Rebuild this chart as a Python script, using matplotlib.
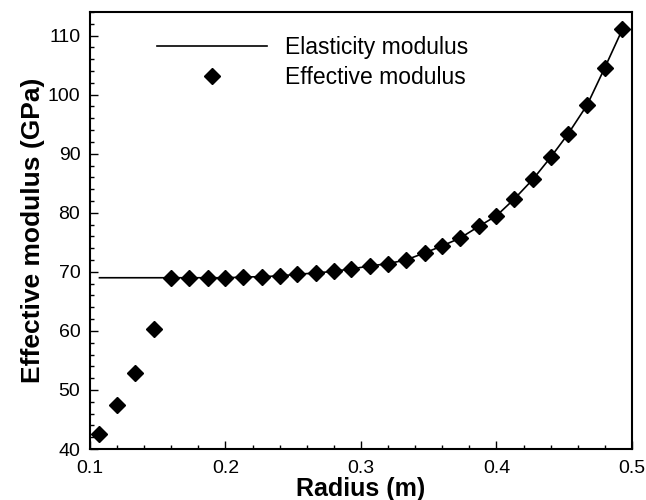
import numpy as np
import matplotlib
matplotlib.use("Agg")
import matplotlib.pyplot as plt
from matplotlib.ticker import MultipleLocator

# ── Data ─────────────────────────────────────────────────────────
radius = [0.107, 0.120, 0.133, 0.147, 0.160, 0.173, 0.187, 0.200, 0.213, 0.227,
          0.240, 0.253, 0.267, 0.280, 0.293, 0.307, 0.320, 0.333, 0.347, 0.360,
          0.373, 0.387, 0.400, 0.413, 0.427, 0.440, 0.453, 0.467, 0.480, 0.493]
effective = [42.5, 47.4, 52.9, 60.4, 69.0, 69.0, 69.0, 69.0, 69.1, 69.2,
             69.3, 69.6, 69.8, 70.1, 70.5, 71.0, 71.4, 72.0, 73.2, 74.4,
             75.7, 77.7, 79.5, 82.3, 85.7, 89.4, 93.4, 98.3, 104.6, 111.1]
elasticity = [69.0, 69.0, 69.0, 69.0, 69.0, 69.0, 69.0, 69.0, 69.1, 69.2,
              69.3, 69.6, 69.8, 70.1, 70.5, 71.0, 71.4, 72.0, 73.2, 74.4,
              75.7, 77.7, 79.5, 82.3, 85.7, 89.4, 93.4, 98.3, 104.6, 111.1]

plt.rcParams['font.family'] = ['Liberation Sans', 'DejaVu Sans']

fig = plt.figure(figsize=(6.46, 5.0), dpi=100)
ax = fig.add_axes([0.1393, 0.102, 0.839, 0.874])

ax.plot(radius, elasticity, color='black', linewidth=1.2, label='Elasticity modulus')
ax.plot(radius, effective, 'D', color='black', markersize=8.5, linestyle='none',
        label='Effective modulus')

ax.set_xlim(0.1, 0.5)
ax.set_ylim(40, 114)
ax.xaxis.set_major_locator(MultipleLocator(0.1))
ax.xaxis.set_minor_locator(MultipleLocator(0.02))
ax.yaxis.set_major_locator(MultipleLocator(10))
ax.yaxis.set_minor_locator(MultipleLocator(2))
ax.tick_params(which='both', direction='in', top=False, right=False,
               labelsize=14, width=1.0)
ax.tick_params(which='major', length=6, pad=7)
ax.tick_params(which='minor', length=3)
ax.xaxis.set_tick_params(pad=8)
for s in ax.spines.values():
    s.set_linewidth(1.5)

ax.set_xlabel('Radius (m)', fontsize=18, fontweight='bold', labelpad=0)
ax.set_ylabel('Effective modulus (GPa)', fontsize=19, fontweight='bold', labelpad=2)

ax.legend(loc='upper left', bbox_to_anchor=(0.123, 0.944), frameon=False,
          fontsize=16.5, handlelength=4.8, handletextpad=0.8, labelspacing=0.3,
          borderpad=0, borderaxespad=0, numpoints=1)

fig.savefig('out.png', dpi=100)
